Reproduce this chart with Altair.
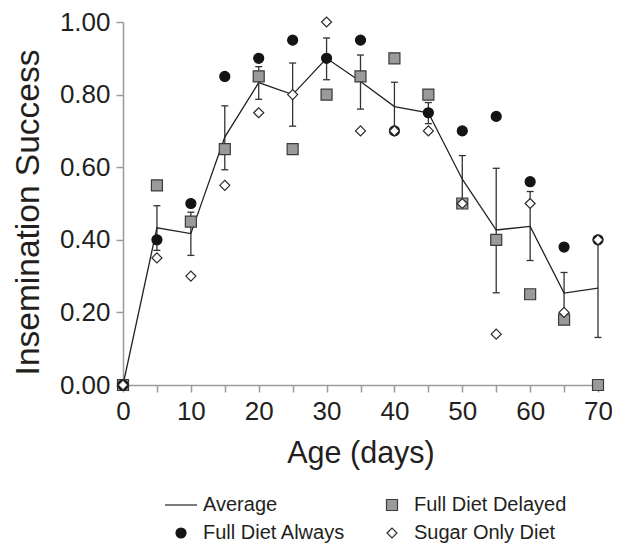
import altair as alt
import pandas as pd

# ---- data ----
ages = [0, 5, 10, 15, 20, 25, 30, 35, 40, 45, 50, 55, 60, 65, 70]
full_always = [0.00, 0.40, 0.50, 0.85, 0.90, 0.95, 0.90, 0.95, 0.70, 0.75, 0.70, 0.74, 0.56, 0.38, 0.40]
full_delayed = [0.00, 0.55, 0.45, 0.65, 0.85, 0.65, 0.80, 0.85, 0.90, 0.80, 0.50, 0.40, 0.25, 0.18, 0.00]
sugar_only = [0.00, 0.35, 0.30, 0.55, 0.75, 0.80, 1.00, 0.70, 0.70, 0.70, 0.50, 0.14, 0.50, 0.20, 0.40]
average = [0.00, 0.433, 0.417, 0.683, 0.833, 0.800, 0.900, 0.836, 0.767, 0.750, 0.567, 0.427, 0.437, 0.253, 0.267]
err_high = [None, 0.494, 0.476, 0.769, 0.877, 0.887, 0.956, 0.909, 0.834, 0.778, 0.632, 0.597, 0.533, 0.310, 0.400]
err_low = [None, 0.371, 0.357, 0.593, 0.787, 0.713, 0.841, 0.760, 0.700, 0.720, 0.500, 0.254, 0.343, 0.196, 0.131]

legend_names = ["Average", "Full Diet Delayed", "Full Diet Always", "Sugar Only Diet"]
x_ticks = [0, 5, 10, 15, 20, 25, 30, 35, 40, 45, 50, 55, 60, 65, 70]
y_ticks = [0.0, 0.2, 0.4, 0.6, 0.8, 1.0]

# ---- tables ----
rows = []
for name, vals in [("Full Diet Delayed", full_delayed),
                   ("Full Diet Always", full_always),
                   ("Sugar Only Diet", sugar_only)]:
    for a, v in zip(ages, vals):
        rows.append({"age": a, "value": v, "series": name})
pts = pd.DataFrame(rows)
pts["ord"] = range(len(pts))

avg_df = pd.DataFrame({"age": ages, "avg": average})
err_df = pd.DataFrame({"age": ages, "lo": err_low, "hi": err_high}).dropna()

FONT = "Liberation Sans"
AX = "#9b9b9b"
INK = "#231f20"

xenc = alt.X(
    "age:Q",
    scale=alt.Scale(domain=[0, 70], nice=False, zero=False),
    axis=alt.Axis(
        title="Age (days)",
        values=x_ticks,
        format="d",
        labelExpr="datum.value % 10 == 0 ? datum.label : ''",
        labelFlush=False,
        labelPadding=6,
        titlePadding=14,
        titleFontSize=30.5,
    ),
)

def yenc(field):
    return alt.Y(
        field,
        scale=alt.Scale(domain=[0, 1], nice=False),
        axis=alt.Axis(
            title="Insemination Success",
            values=y_ticks,
            format=".2f",
            labelFlush=False,
            labelPadding=6,
            titlePadding=14,
            titleFontSize=33.5,
            titleY=190,
        ),
    )

err_rule = alt.Chart(err_df).mark_rule(color="#333333", strokeWidth=1.3).encode(
    x=xenc, y=yenc("lo:Q"), y2="hi:Q"
)
cap_hi = alt.Chart(err_df).mark_tick(
    orient="horizontal", size=7, thickness=1.3, color="#333333", opacity=1
).encode(x=xenc, y=yenc("hi:Q"))
cap_lo = alt.Chart(err_df).mark_tick(
    orient="horizontal", size=7, thickness=1.3, color="#333333", opacity=1
).encode(x=xenc, y=yenc("lo:Q"))

avg_line = alt.Chart(avg_df).mark_line(color="#222222", strokeWidth=1.3).encode(
    x=xenc, y=yenc("avg:Q")
)

leg = alt.Legend(
    title=None,
    orient="none",
    direction="horizontal",
    legendX=48,
    legendY=473,
    columns=2,
    columnPadding=36,
    rowPadding=8,
    labelOffset=12,
    labelFont=FONT,
    labelFontSize=20,
    labelColor=INK,
    labelLimit=400,
    symbolStrokeWidth=1.2,
    symbolSize=100,
    padding=0,
    values=legend_names,
)

shapes = ["M-3.2,0H3.2", "M-1.1,-1.1H1.1V1.1H-1.1Z", "circle", "diamond"]
fills = ["#222222", "#9a9a9a", "#141414", "#ffffff"]
strokes = ["#222222", "#3a3a3a", "#141414", "#2a2a2a"]

points = alt.Chart(pts).mark_point(
    filled=True, opacity=1, size=100, strokeWidth=1.2
).encode(
    x=xenc,
    y=yenc("value:Q"),
    shape=alt.Shape("series:N", sort=legend_names,
                    scale=alt.Scale(domain=legend_names, range=shapes), legend=leg),
    fill=alt.Fill("series:N", sort=legend_names,
                  scale=alt.Scale(domain=legend_names, range=fills), legend=leg),
    stroke=alt.Stroke("series:N", sort=legend_names,
                      scale=alt.Scale(domain=legend_names, range=strokes), legend=leg),
    order=alt.Order("ord:Q"),
)

chart = alt.layer(err_rule, cap_hi, cap_lo, avg_line, points).properties(
    width=475,
    height=363,
    padding={"left": 115, "top": 14, "right": 14, "bottom": 160},
    autosize=alt.AutoSizeParams(type="none"),
    background="white",
).configure_view(stroke=None).configure_axis(
    grid=False,
    domainColor=AX,
    domainWidth=1.5,
    tickColor=AX,
    tickWidth=1.5,
    tickSize=7,
    labelFont=FONT,
    labelFontSize=26,
    labelColor=INK,
    titleFont=FONT,
    titleFontWeight="normal",
    titleColor=INK,
)

chart.save("out.html", embed_options={"renderer": "svg", "actions": False})
